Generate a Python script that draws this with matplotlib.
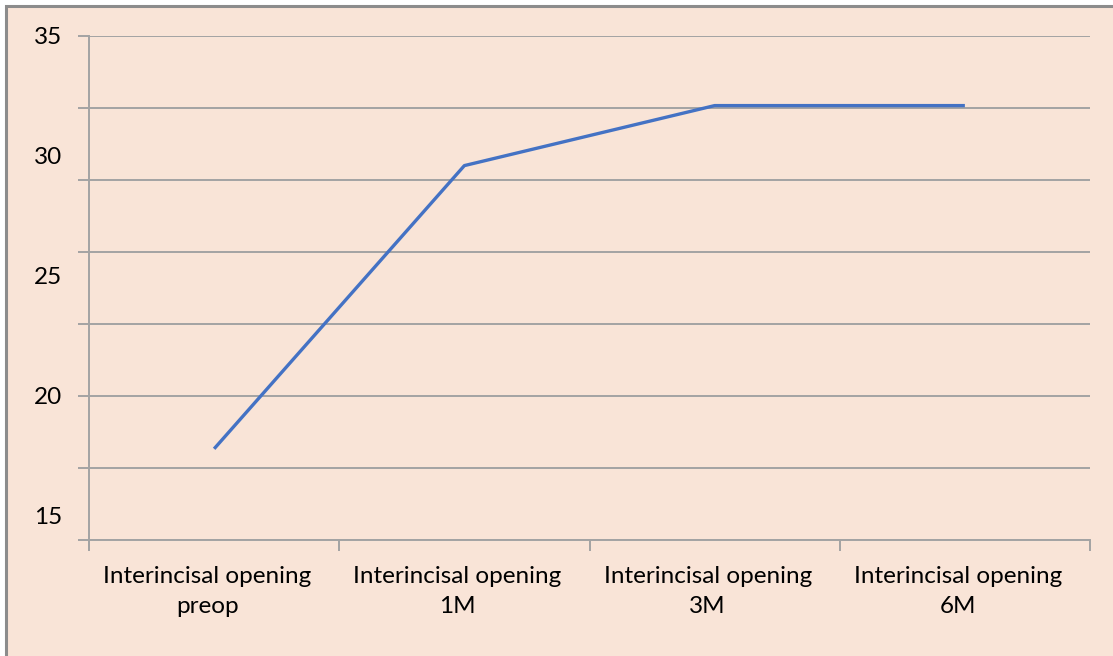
import numpy as np
import matplotlib.pyplot as plt
import matplotlib.transforms as mtransforms
from matplotlib.patches import Rectangle
from matplotlib.lines import Line2D

# Mean interincisal opening (mm) at each follow-up
categories = ["Interincisal opening\npreop", "Interincisal opening\n1M",
              "Interincisal opening\n3M", "Interincisal opening\n6M"]
opening = [17.8, 29.6, 32.1, 32.1]

y_labels = [15, 20, 25, 30, 35]
y_grid = [14, 17, 20, 23, 26, 29, 32, 35]

peach = "#F9E4D7"
grey = "#A3A3A3"
blue = "#4472C4"

plt.rcParams['font.family'] = ['Lato', 'DejaVu Sans']

W, H = 1113, 656
fig = plt.figure(figsize=(W / 100, H / 100), dpi=100, facecolor="white")

# chart area background with a grey frame on the left and top
fig.patches.append(Rectangle((6 / W, -0.1), 1.2, (H - 6) / H + 0.1,
                             transform=fig.transFigure, facecolor=peach,
                             edgecolor="#8C8C8C", linewidth=2.2, zorder=-10))

ax = fig.add_axes([89 / W, (H - 540) / H, (1090 - 89) / W, (540 - 36) / H])
ax.set_facecolor("none")

x = np.arange(len(categories))
ax.plot(x, opening, color=blue, linewidth=2.4, solid_capstyle="butt", zorder=3)

ax.set_xlim(-0.5, len(categories) - 0.5)
ax.set_ylim(y_grid[0], y_grid[-1])

# gridlines / tick marks on the 3 mm steps, labels every 5 mm
ax.yaxis.remove_overlapping_locs = False
ax.set_yticks(y_grid)
ax.set_yticklabels([])
ax.set_yticks(y_labels, minor=True)
ax.set_yticklabels([str(v) for v in y_labels], minor=True)
ax.yaxis.grid(True, which="major", color=grey, linewidth=1.4)
ax.tick_params(axis="y", which="major", length=8, width=1.4, color=grey)
ax.tick_params(axis="y", which="minor", length=0, pad=19.5, labelsize=17.5)

ax.set_xticks(np.arange(-0.5, len(categories), 1.0))
ax.set_xticklabels([])
ax.set_xticks(x, minor=True)
ax.set_xticklabels(categories, minor=True, linespacing=1.5)
ax.tick_params(axis="x", which="major", length=8, width=1.4, color=grey)
ax.tick_params(axis="x", which="minor", length=0, pad=19, labelsize=17.5)
# category labels sit slightly left of the category centre
shift = mtransforms.ScaledTranslation(-7 / 100, 0, fig.dpi_scale_trans)
for lab in ax.get_xticklabels(minor=True):
    lab.set_transform(lab.get_transform() + shift)

for s in ["top", "right"]:
    ax.spines[s].set_visible(False)
for s in ["left", "bottom"]:
    ax.spines[s].set_color(grey)
    ax.spines[s].set_linewidth(1.4)

# the value axis runs a little below the category axis
fig.lines.append(Line2D([89 / W, 89 / W], [(H - 549) / H, (H - 540) / H],
                        transform=fig.transFigure, color=grey, linewidth=1.4))

fig.savefig("out.png", dpi=100, facecolor="white")
